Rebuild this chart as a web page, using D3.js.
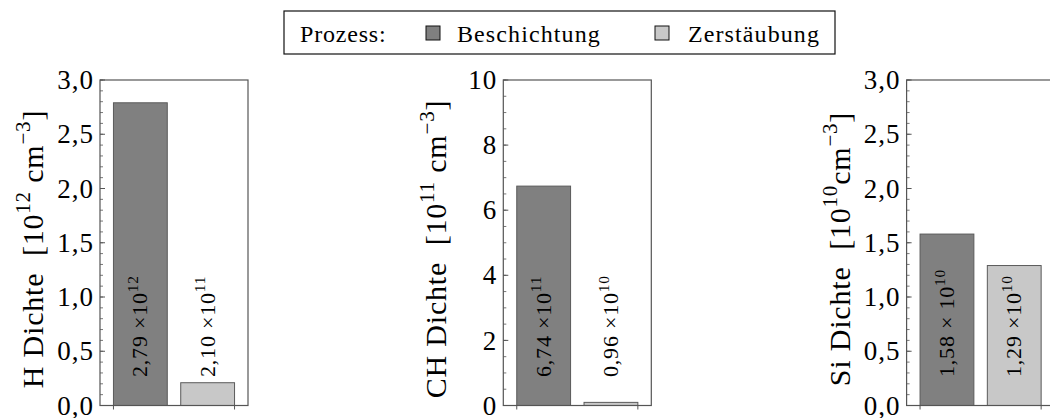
<!DOCTYPE html>
<html lang="de">
<head>
<meta charset="UTF-8">
<title>Dichte</title>
<script src="https://d3js.org/d3.v7.min.js"></script>
<style>
    body { margin: 0; background: white; }
    svg { display: block; font-family: "Liberation Serif", "Times New Roman", serif; }
    text { white-space: pre; }
</style>
</head>
<body>
<svg id="chart" width="1050" height="418"></svg>
<script>
// data
const categories = ["Beschichtung", "Zerstäubung"]
const colors = ["#808080", "#c8c8c8"]
const hValues = [2.79, 0.21]
const chValues = [6.74, 0.096]
const siValues = [1.58, 1.29]
const hLabels = [["2,79 ×10", "12"], ["2,10 ×10", "11"]]
const chLabels = [["6,74 ×10", "11"], ["0,96 ×10", "10"]]
const siLabels = [["1,58 × 10", "10"], ["1,29 ×10", "10"]]
const hTicks = [0, 0.5, 1, 1.5, 2, 2.5, 3]
const chTicks = [0, 2, 4, 6, 8, 10]
const siTicks = [0, 0.5, 1, 1.5, 2, 2.5, 3]

const panels = [
    {name: "H", values: hValues, labels: hLabels, max: 3, ticks: hTicks, minor: 0.1, dec: 1,
     axis: [["H Dichte  [10", 0], ["12", 1], [" cm", 0], ["−3", 1], ["]", 0]]},
    {name: "CH", values: chValues, labels: chLabels, max: 10, ticks: chTicks, minor: 0.5, dec: 0,
     axis: [["CH Dichte  [10", 0], ["11", 1], [" cm", 0], ["−3", 1], ["]", 0]]},
    {name: "Si", values: siValues, labels: siLabels, max: 3, ticks: siTicks, minor: 0.1, dec: 1,
     axis: [["Si Dichte  [10", 0], ["10", 1], ["cm", 0], ["−3", 1], ["]", 0]]}
]

const svg = d3.select("#chart")
const plotTop = 80, plotBottom = 405.5, panelW = 148
const axisColor = "#555"

// superscript helper: parts = [[text, isSup], ...]
const writeParts = (sel, parts, size) => {
    let up = false
    parts.forEach(([t, sup]) => {
        let dy = 0
        if (sup && !up) { dy = -0.42 * size; up = true }
        else if (!sup && up) { dy = 0.42 * size; up = false }
        sel.append("tspan")
            .attr("dy", dy)
            .attr("font-size", sup ? size * 0.7 : size)
            .text(t)
    })
}

panels.forEach((p, i) => {
    const x0 = 100 + i * 403.3
    const g = svg.append("g")
    const x = d3.scaleBand().domain(categories).range([x0, x0 + panelW]).padding(0.2)
    const y = d3.scaleLinear().domain([0, p.max]).range([plotBottom, plotTop])
    const fmt = v => v.toFixed(p.dec).replace(".", ",")

    // bars
    g.selectAll("rect.bar").data(p.values).join("rect")
        .attr("class", "bar")
        .attr("x", (d, j) => x(categories[j]))
        .attr("width", x.bandwidth())
        .attr("y", d => y(d))
        .attr("height", d => y(0) - y(d))
        .attr("fill", (d, j) => colors[j])
        .attr("stroke", "#5a5a5a")
        .attr("stroke-width", 1)

    // frame
    g.append("rect")
        .attr("x", x0).attr("y", plotTop)
        .attr("width", panelW).attr("height", plotBottom - plotTop)
        .attr("fill", "none").attr("stroke", axisColor).attr("stroke-width", 1.2)

    // y ticks
    const minors = d3.range(0, p.max + 1e-9, p.minor)
    g.selectAll("line.minor").data(minors).join("line")
        .attr("x1", x0).attr("x2", x0 + 3)
        .attr("y1", d => y(d)).attr("y2", d => y(d))
        .attr("stroke", axisColor).attr("stroke-width", 0.8)
    g.selectAll("line.major").data(p.ticks).join("line")
        .attr("x1", x0).attr("x2", x0 + 5)
        .attr("y1", d => y(d)).attr("y2", d => y(d))
        .attr("stroke", axisColor).attr("stroke-width", 1)
    g.selectAll("text.tick").data(p.ticks).join("text")
        .attr("x", x0 - 6).attr("y", d => y(d))
        .attr("dy", "0.34em")
        .attr("text-anchor", "end")
        .attr("font-size", 27)
        .attr("letter-spacing", 1)
        .text(fmt)

    // x ticks at group ends
    const ends = [x(categories[0]), x(categories[1]) + x.bandwidth()]
    g.selectAll("line.xt").data(ends).join("line")
        .attr("x1", d => d).attr("x2", d => d)
        .attr("y1", plotBottom).attr("y2", plotBottom + 4)
        .attr("stroke", axisColor)

    // bar value labels
    p.labels.forEach((lab, j) => {
        const cx = x(categories[j]) + x.bandwidth() / 2 + 7
        const t = g.append("text")
            .attr("transform", `translate(${cx},377) rotate(-90)`)
            .attr("letter-spacing", 0.8)
        writeParts(t, [[lab[0], 0], [lab[1], 1]], 22)
    })

    // axis title
    const t = g.append("text")
        .attr("transform", `translate(${x0 - 57},249) rotate(-90)`)
        .attr("text-anchor", "middle")
        .attr("letter-spacing", 0.8)
    writeParts(t, p.axis, 30)
})

// legend
const lg = svg.append("g")
lg.append("rect").attr("x", 284).attr("y", 11).attr("width", 551).attr("height", 43)
    .attr("fill", "white").attr("stroke", "#111").attr("stroke-width", 1.2)
lg.append("text").attr("x", 300).attr("y", 42).attr("font-size", 24)
    .attr("letter-spacing", 0.8).text("Prozess:")
const legX = d3.scaleOrdinal().domain(categories).range([426, 655])
lg.selectAll("rect.sw").data(categories).join("rect")
    .attr("x", d => legX(d)).attr("y", 26).attr("width", 14).attr("height", 14)
    .attr("fill", (d, j) => colors[j]).attr("stroke", "#111")
lg.selectAll("text.lab").data(categories).join("text")
    .attr("x", (d, j) => legX(d) + (j ? 33 : 31)).attr("y", 42).attr("font-size", 24)
    .attr("letter-spacing", 1.1).text(d => d)
</script>
</body>
</html>
